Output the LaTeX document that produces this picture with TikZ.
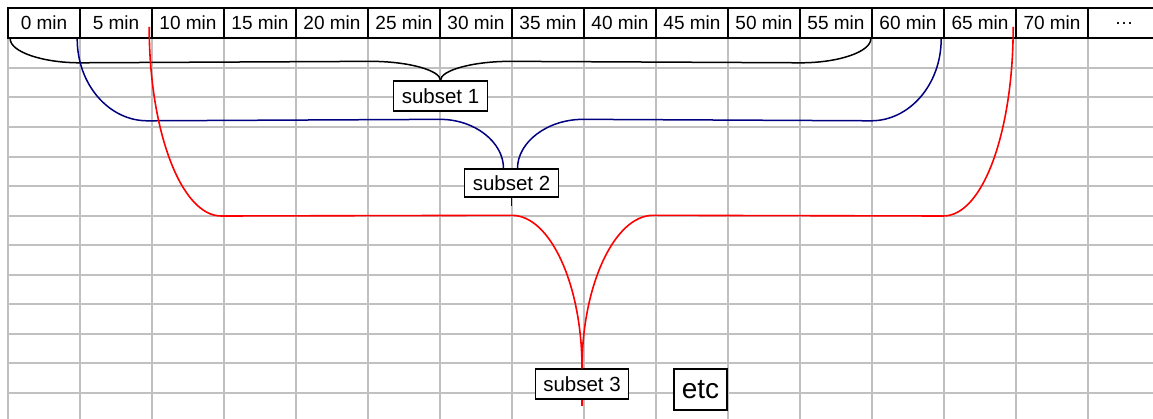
\documentclass[tikz,border=0pt]{standalone}
\usepackage{fontspec}
\setmainfont{Liberation Sans}
\usepackage{xcolor}
\usepackage{tikz}
\usetikzlibrary{calc}

\definecolor{gridgray}{RGB}{192,192,192}
\definecolor{navyline}{RGB}{0,0,128}

\begin{document}
\begin{tikzpicture}[
  x=1pt, y=-1pt,
  cell/.style={draw, line width=1.6pt, fill=white, minimum width=72pt, minimum height=30pt,
    inner sep=0pt, font=\fontsize{19pt}{19pt}\selectfont},
  gridline/.style={draw=gridgray, line width=2pt},
  subset/.style={draw, line width=1.3pt, fill=white, minimum height=30pt, inner xsep=8pt,
    inner ysep=0pt, font=\fontsize{20.5pt}{20.5pt}\selectfont},
  etcbox/.style={subset, minimum width=53pt, minimum height=41pt, inner xsep=6pt,
    font=\fontsize{28pt}{28pt}\selectfont},
  blackcurve/.style={line width=1.5pt, black},
  bluecurve/.style={line width=1.5pt, navyline},
  redcurve/.style={line width=1.6pt, red},
]
\useasboundingbox (0,0) rectangle (1153,419);
\clip (0,0) rectangle (1153,419);

% Sheet grid
\foreach \k in {0,...,15}
  \draw[gridline] (8+72*\k,38) -- (8+72*\k,419);
\foreach \k in {1,...,12}
  \draw[gridline] (8,38.4+29.55*\k) -- (1153,38.4+29.55*\k);

% Header row
\foreach \t [count=\i from 0] in {0,5,...,70}
  \node[cell] (h\i) at (44+72*\i,23) {\t\ min};
\node[cell] (h15) at (1124,23) {…};

% Subsets
\node[subset] (s1) at (440.5,96) {subset 1};
\node[subset, minimum height=28pt] (s2) at (511.5,183) {subset 2};
\node[subset] (s3) at (582,384) {subset 3};
\node[etcbox] (etc) at (700.5,389.5) {etc};

% Subset 1
\draw[blackcurve] ([xshift=3pt]h0.south west) .. controls +(0,13) and +(-38,0) .. ++(70,24)
  -- ($(s1.north)+(-70,-19)$) .. controls +(38,0) and +(0,-10) .. (s1.north);
\draw[blackcurve] ([xshift=-2pt]h11.south east) .. controls +(0,13) and +(38,0) .. ++(-70,24)
  -- ($(s1.north)+(70,-19)$) .. controls +(-38,0) and +(0,-10) .. (s1.north);

% Subset 2
\draw[bluecurve] ([xshift=-2pt]h1.south west) .. controls +(0,46) and +(-38,0) .. ++(70,82)
  -- ($(s2.north)+(-71.5,-49)$) .. controls +(35,0) and +(0,-26) .. ([xshift=-8pt]s2.north);
\draw[bluecurve] ([xshift=-2pt]h13.south west) .. controls +(0,46) and +(38,0) .. ++(-70,82)
  -- ($(s2.north)+(71.5,-49)$) .. controls +(-36,0) and +(0,-26) .. ([xshift=6pt]s2.north);
\draw[bluecurve] (s2.south) -- ++(0,8);

% Subset 3
\draw[redcurve] ([shift={(-2pt,-4pt)}]h2.west) .. controls +(0,104) and +(-40,0) .. ++(72,189)
  -- ($(s3.north)+(-70,-153)$) .. controls +(38,0) and +(0,-84) .. (s3.north);
\draw[redcurve] ([shift={(-2pt,-4pt)}]h14.west) .. controls +(0,104) and +(40,0) .. ++(-70,189)
  -- ($(s3.north)+(71,-153)$) .. controls +(-38,0) and +(0,-84) .. (s3.north);
\draw[redcurve] (s3.south) -- ++(0,6);

\end{tikzpicture}
\end{document}
